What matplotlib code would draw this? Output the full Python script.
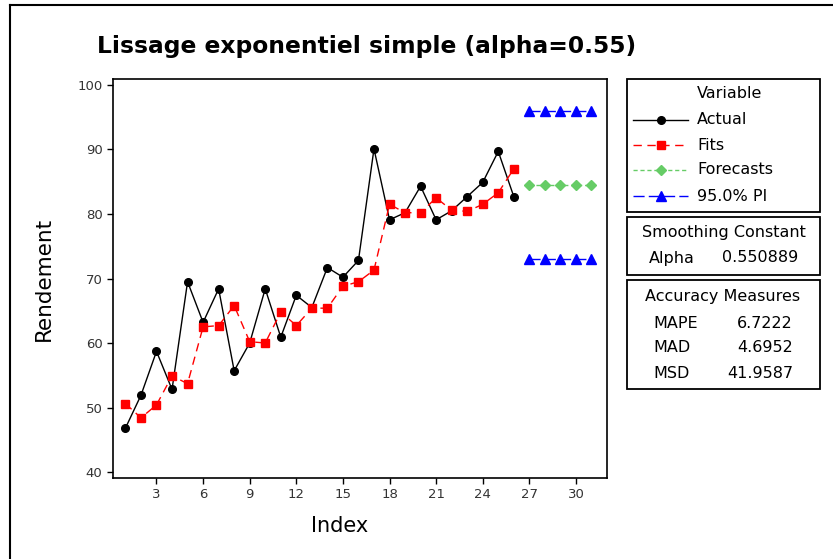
import matplotlib
matplotlib.use("Agg")
import matplotlib.pyplot as plt
from matplotlib.lines import Line2D
from matplotlib.patches import Rectangle

# data
index = list(range(1, 27))
actual = [46.8, 51.9, 58.7, 52.8, 69.5, 63.2, 68.4, 55.7, 60.0, 68.4,
          60.9, 67.4, 65.5, 71.7, 70.2, 72.8, 90.1, 79.1, 80.2, 84.3,
          79.1, 80.5, 82.7, 84.9, 89.7, 82.7]
fits = [50.6, 48.4, 50.4, 54.9, 53.7, 62.5, 62.7, 65.8, 60.2, 60.0,
        64.8, 62.7, 65.4, 65.4, 68.8, 69.5, 71.3, 81.5, 80.2, 80.2,
        82.5, 80.6, 80.4, 81.5, 83.3, 87.0]
fc_index = [27, 28, 29, 30, 31]
forecasts = [84.5, 84.5, 84.5, 84.5, 84.5]
pi_upper = [96.0, 96.0, 96.0, 96.0, 96.0]
pi_lower = [73.1, 73.1, 73.1, 73.1, 73.1]

alpha_txt = "0.550889"
measures = ["MAPE", "MAD", "MSD"]
measure_vals = ["6.7222", "4.6952", "41.9587"]

W, H = 833, 559
plt.rcParams['font.family'] = ['DejaVu Sans']
fig = plt.figure(figsize=(W / 100, H / 100), dpi=100)


def fx(px):
    return px / W


def fy(py):
    return 1 - py / H


# outer frame (only left/top visible in the crop)
fig.add_artist(Line2D([fx(9.5), fx(9.5)], [fy(5), 0], color='black', lw=1.5))
fig.add_artist(Line2D([fx(9.5), 1], [fy(5), fy(5)], color='black', lw=1.5))

ax = fig.add_axes([fx(113), fy(478), fx(607) - fx(113), fy(79) - fy(478)])
ax.plot(index, actual, color='black', lw=1, marker='o', ms=5.5, zorder=3)
ax.plot(index, fits, color='red', lw=1, ls=(0, (6, 4)), marker='s', ms=5.5,
        zorder=4)
ax.plot(fc_index, forecasts, color='#66cc66', lw=1, ls=(0, (3, 2)),
        marker='D', ms=5, zorder=3)
ax.plot(fc_index, pi_upper, color='blue', lw=1, ls=(0, (8, 3)),
        marker='^', ms=6.5, zorder=3)
ax.plot(fc_index, pi_lower, color='blue', lw=1, ls=(0, (8, 3)),
        marker='^', ms=6.5, zorder=3)

ax.set_xlim(0.2, 32.0)
ax.set_ylim(39.07, 100.93)
ax.set_xticks(range(3, 31, 3))
ax.set_yticks(range(40, 101, 10))
ax.tick_params(direction='out', length=4, width=1, labelsize=9.5,
               labelcolor='#333333')
for s in ax.spines.values():
    s.set_linewidth(1.2)
ax.set_xlabel("Index", fontsize=15, va='top')
ax.set_ylabel("Rendement", fontsize=15.5)
ax.xaxis.set_label_coords((340 - 113) / 494, (478 - 516) / 399)
ax.yaxis.set_label_coords((54 - 113) / 494, 0.5)

fig.text(fx(97), fy(47), "Lissage exponentiel simple (alpha=0.55)",
         fontsize=16.8, fontweight='bold', ha='left', va='center')


def box(x0, y0, x1, y1):
    fig.add_artist(Rectangle((fx(x0), fy(y1)), fx(x1) - fx(x0),
                             fy(y0) - fy(y1), fill=False, ec='black', lw=1.3))


fs = 11.5
# legend box
box(627, 79, 820, 212)
fig.text(fx(730), fy(94), "Variable", fontsize=fs, ha='center', va='center')
leg = [("Actual", 'black', '-', 'o', 5.5, 120),
       ("Fits", 'red', (0, (6, 4)), 's', 5.5, 145),
       ("Forecasts", '#66cc66', (0, (3, 2)), 'D', 5, 170),
       ("95.0% PI", 'blue', (0, (8, 3)), '^', 6.5, 196)]
for name, col, ls, mk, ms, yy in leg:
    fig.add_artist(Line2D([fx(633), fx(688)], [fy(yy), fy(yy)], color=col,
                          ls=ls, lw=1))
    fig.add_artist(Line2D([fx(661)], [fy(yy)], color=col, marker=mk, ms=ms,
                          ls='none'))
    fig.text(fx(697), fy(yy), name, fontsize=fs, ha='left', va='center')

# smoothing constant box
box(627, 217, 820, 275)
fig.text(fx(724), fy(233), "Smoothing Constant", fontsize=fs, ha='center',
         va='center')
fig.text(fx(649), fy(258), "Alpha", fontsize=fs, ha='left', va='center')
fig.text(fx(798), fy(258), alpha_txt, fontsize=fs, ha='right', va='center')

# accuracy measures box
box(627, 280, 820, 389)
fig.text(fx(723), fy(297), "Accuracy Measures", fontsize=fs, ha='center',
         va='center')
for i, (m, v) in enumerate(zip(measures, measure_vals)):
    yy = 323 + i * 25
    fig.text(fx(653), fy(yy), m, fontsize=fs, ha='left', va='center')
    fig.text(fx(793), fy(yy), v, fontsize=fs, ha='right', va='center')

fig.savefig("out.png", dpi=100)
